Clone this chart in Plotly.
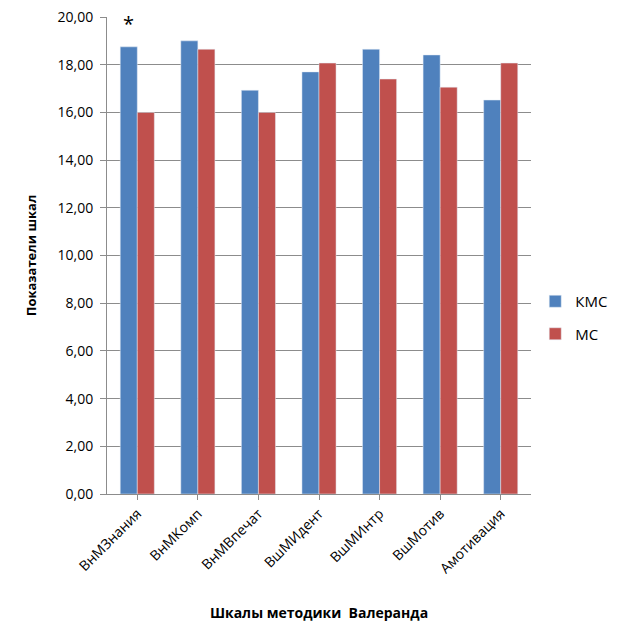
import plotly.graph_objects as go

categories = ['ВнМЗнания', 'ВнМКомп', 'ВнМВпечат', 'ВшМИдент', 'ВшМИнтр', 'ВшМотив', 'Амотивация']
kms = [18.75, 19.0, 16.93, 17.70, 18.65, 18.41, 16.52]
ms = [16.0, 18.65, 16.0, 18.07, 17.40, 17.06, 18.07]

fig = go.Figure()
fig.add_trace(go.Bar(x=categories, y=kms, name='КМС', marker_color='#4F81BD', legendgroup='kms'))
fig.add_trace(go.Bar(x=categories, y=ms, name='МС', marker_color='#C0504D', legendgroup='ms'))

# звездочка над первым столбцом
fig.add_annotation(x=categories[0], y=kms[0], xshift=-8.5, yshift=23, text='*',
                   showarrow=False, font=dict(size=20, color='black'))

# страница сдвинута на 8px (отступ body), поэтому размеры чуть меньше
fig.update_layout(
    width=615, height=630,
    margin=dict(l=99, r=92, t=9, b=144),
    paper_bgcolor='white', plot_bgcolor='white',
    font=dict(family='Open Sans, Liberation Sans, sans-serif', size=14, color='black'),
    separators=', ',
    barmode='group', bargap=0.437, bargroupgap=0,
    showlegend=True,
    legend=dict(x=1.01, y=0.37, xanchor='left', yanchor='middle', traceorder='grouped',
                tracegroupgap=10, font=dict(size=15), itemwidth=30),
)
fig.update_yaxes(range=[0, 20.001], tick0=0, dtick=2, tickformat='.2f', showgrid=True,
                 gridcolor='#8c8c8c', gridwidth=1, showline=True, linecolor='#8c8c8c',
                 ticks='outside', ticklen=6, tickcolor='#8c8c8c', tickfont=dict(size=14),
                 automargin=False, ticklabelstandoff=4, ticklabeloverflow='allow',
                 title=dict(text='<b>Показатели шкал</b>', font=dict(size=13), standoff=17))
fig.update_xaxes(showline=True, linecolor='#8c8c8c', tickangle=-45, ticks='outside',
                 tickcolor='#8c8c8c', ticklen=5, tickfont=dict(size=14), automargin=False,
                 title=dict(text='<b>Шкалы методики  Валеранда</b>', font=dict(size=14), standoff=32))

fig.write_html("out.html")
